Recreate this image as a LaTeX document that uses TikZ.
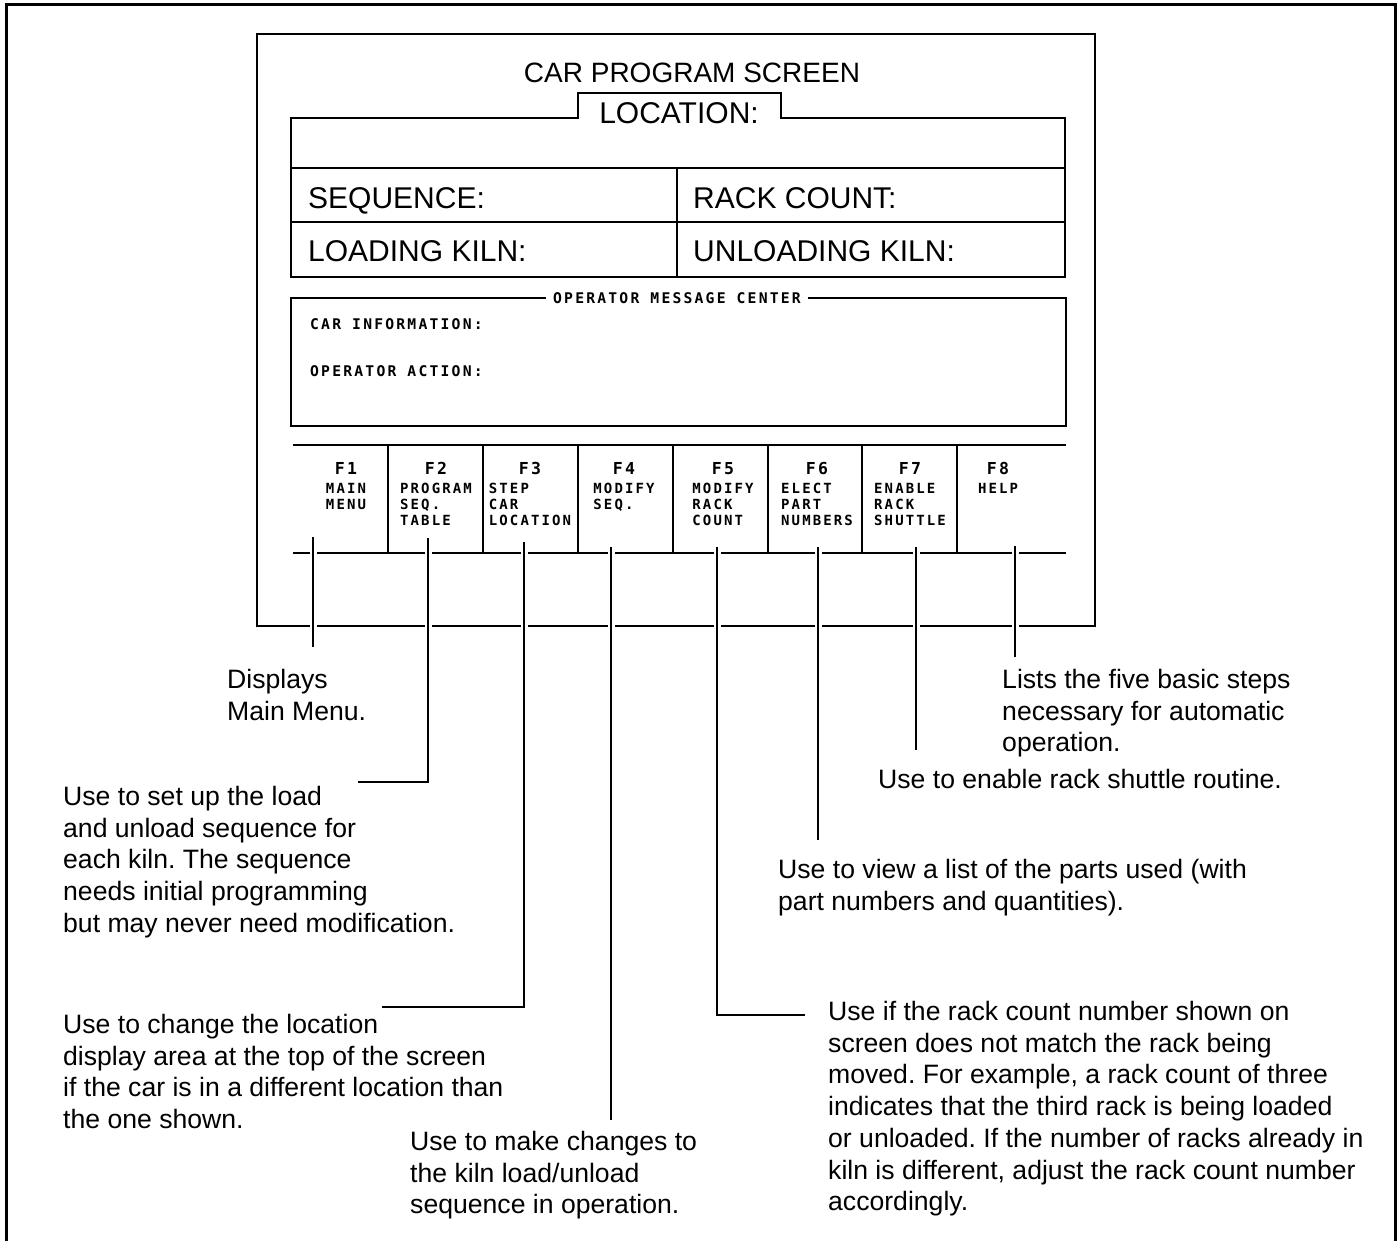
\documentclass[tikz,border=0pt]{standalone}
\usepackage{fontspec}
\setmainfont{Liberation Sans}
\newfontfamily\crtfont[LetterSpace=15]{DejaVu Sans Mono}
\usetikzlibrary{positioning}
\frenchspacing

\begin{document}
\begin{tikzpicture}[x=1pt,y=-1pt,
    frame/.style={line width=3pt},
    screenline/.style={line width=2.4pt},
    boxline/.style={line width=1.6pt},
    leader/.style={line width=1.1pt,preaction={draw=white,line width=7pt}},
    screentext/.style={font=\fontsize{30}{32}\selectfont,inner sep=0pt},
    note/.style={font=\fontsize{26.6}{31.75}\selectfont,align=left,anchor=north west,inner sep=0pt},
    keyname/.style={font=\crtfont\bfseries\fontsize{16.5}{16}\selectfont,inner sep=0pt,anchor=base},
    keytext/.style={font=\crtfont\bfseries\fontsize{14}{16}\selectfont,align=left,anchor=north,inner sep=0pt},
    msgtext/.style={font=\crtfont\bfseries\fontsize{14.7}{16}\selectfont,inner sep=0pt,anchor=base west}]
  \useasboundingbox (0,0) rectangle (1400,1240);
  % outer frame and screen
  \draw[frame] (6,1260) -- (6,4) -- (1395,4) -- (1395,1260);
  \draw[screenline] (257,34) rectangle (1095,626);
  \node[screentext,font=\fontsize{28}{30}\selectfont,anchor=base] (title) at (692,82) {CAR PROGRAM SCREEN};

  % location box
  \draw[boxline] (578,118) -- (291,118) -- (291,277) -- (1065,277)
    -- (1065,118) -- (781,118) -- (781,93) -- (578,93) -- cycle;
  \draw[boxline] (291,168) -- (1065,168);
  \draw[boxline] (291,222) -- (1065,222);
  \draw[boxline] (677,168) -- (677,277);
  \node[screentext,anchor=base] (loc) at (679,123) {LOCATION:};
  \node[screentext,anchor=base west] (seq) at (308,208) {SEQUENCE:};
  \node[screentext,anchor=base west] (rack) at (693,208) {RACK COUNT:};
  \node[screentext,anchor=base west] (load) at (308,261) {LOADING KILN:};
  \node[screentext,anchor=base west] (unload) at (693,261) {UNLOADING KILN:};

  % message center
  \draw[boxline] (291,298) rectangle (1066,426);
  \node[msgtext,anchor=base,fill=white,inner xsep=7pt] (msg) at (677,303) {OPERATOR MESSAGE CENTER};
  \node[msgtext] (carinfo) at (310,329) {CAR INFORMATION:};
  \node[msgtext] (action) at (310,376) {OPERATOR ACTION:};

  % function keys
  \draw[boxline] (293,445) -- (1066,445);
  \draw[boxline] (293,553) -- (1066,553);
  \foreach \x in {388,483,578,673,768,862,957}
    \draw[boxline] (\x,445) -- (\x,553);
  \foreach \x/\k/\t in {346/1/{MAIN\\MENU},436/2/{PROGRAM\\SEQ.\\TABLE},
      530/3/{STEP\\CAR\\LOCATION},624/4/{MODIFY\\SEQ.},723/5/{MODIFY\\RACK\\COUNT},
      817/6/{ELECT\\PART\\NUMBERS},910/7/{ENABLE\\RACK\\SHUTTLE},998/8/{HELP}}{
    \node[keyname] (f\k) at (\x,474) {F\k};
    \node[keytext] (k\k) at (\x,483) {\t};
  }

  % descriptions
  \node[note] (d1) at (227,669) {Displays\\Main Menu.};
  \node[note] (d2) at (63,786) {Use to set up the load\\and unload sequence for\\each kiln. The sequence\\needs initial programming\\but may never need modification.};
  \node[note] (d3) at (63,1014) {Use to change the location\\display area at the top of the screen\\if the car is in a different location than\\the one shown.};
  \node[note] (d4) at (410,1131) {Use to make changes to\\the kiln load/unload\\sequence in operation.};
  \node[note] (d5) at (828,1001) {Use if the rack count number shown on\\screen does not match the rack being\\moved. For example, a rack count of three\\indicates that the third rack is being loaded\\or unloaded. If the number of racks already in\\kiln is different, adjust the rack count number\\accordingly.};
  \node[note] (d6) at (778,859) {Use to view a list of the parts used (with\\part numbers and quantities).};
  \node[note] (d7) at (878,769) {Use to enable rack shuttle routine.};
  \node[note] (d8) at (1002,669) {Lists the five basic steps\\necessary for automatic\\operation.};

  % leaders
  \coordinate (a1) at (313,537);  \coordinate (b1) at (313,647);
  \coordinate (a2) at (428,538);  \coordinate (b2) at (358,782);
  \coordinate (a3) at (524,542);  \coordinate (b3) at (382,1007);
  \coordinate (a4) at (611,547);  \coordinate (b4) at (611,1120);
  \coordinate (a5) at (717,547);  \coordinate (b5) at (805,1015);
  \coordinate (a6) at (818,547);  \coordinate (b6) at (818,840);
  \coordinate (a7) at (916,547);  \coordinate (b7) at (916,750);
  \coordinate (a8) at (1015,546); \coordinate (b8) at (1015,657);
  \draw[leader] (a1) -- (b1);
  \draw[leader] (a2) |- (b2);
  \draw[leader] (a3) |- (b3);
  \draw[leader] (a4) -- (b4);
  \draw[leader] (a5) |- (b5);
  \draw[leader] (a6) -- (b6);
  \draw[leader] (a7) -- (b7);
  \draw[leader] (a8) -- (b8);
\end{tikzpicture}
\end{document}
